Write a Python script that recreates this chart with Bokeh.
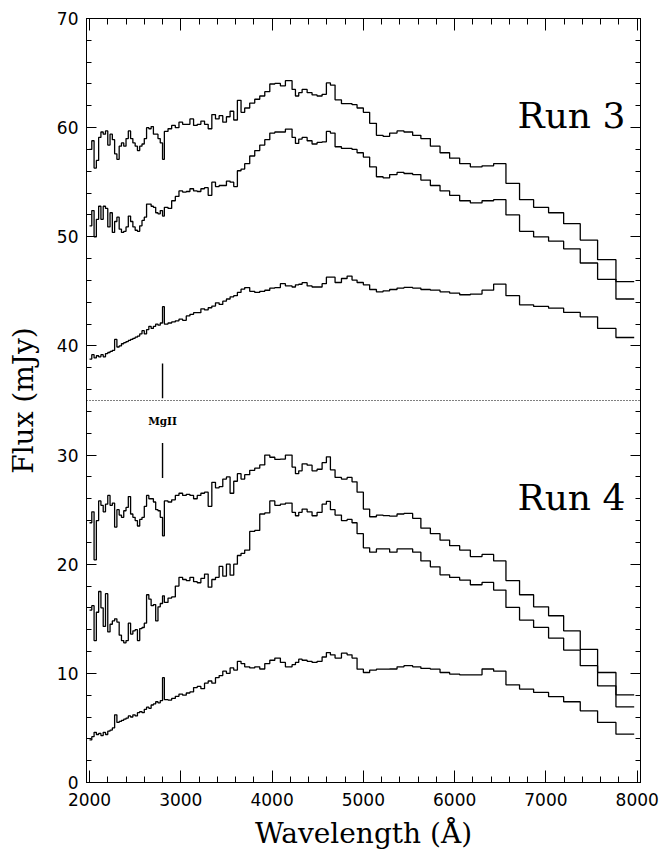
from bokeh.plotting import figure
from bokeh.models import (Range1d, LinearAxis, SingleIntervalTicker, Span, ColumnDataSource,
                          CustomLabelingPolicy)
from bokeh.embed import file_html
from bokeh.resources import INLINE
from bokeh.core.properties import value

# ---------------- data ----------------
wave_edges = [
    2000, 2025, 2050, 2075, 2100, 2125, 2150, 2175, 2200, 2225, 2250, 2275, 2300, 2325, 2350, 2375,
    2400, 2425, 2450, 2475, 2500, 2525, 2550, 2575, 2600, 2625, 2650, 2675, 2700, 2725, 2750, 2775, 2800,
    2820, 2860, 2900, 2940, 2980, 3020, 3060, 3100, 3140, 3180, 3220, 3260, 3300, 3340, 3380, 3420,
    3460, 3500, 3540, 3580, 3620, 3660, 3700,
    3755, 3810, 3865, 3920, 3975, 4030, 4091, 4146, 4219, 4256, 4292, 4329, 4384, 4438, 4493, 4548,
    4595, 4639, 4690,
    4760, 4822, 4876, 4931, 5000, 5069, 5143, 5216, 5288, 5369, 5445, 5540, 5630, 5734, 5840, 5945,
    6055, 6172, 6300, 6427, 6562, 6711, 6865, 7029, 7194, 7376, 7566, 7767, 7967,
]

run3_a = [
    58.0, 58.8, 56.3, 57.0, 59.1, 59.6, 59.4, 59.7, 58.4, 59.4, 58.9, 57.6, 57.1, 58.3, 58.6, 58.3,
    59.0, 59.7, 59.0, 58.6, 58.3, 57.9, 58.3, 58.5, 59.0, 60.0, 59.9, 60.1, 59.4, 59.4, 59.0, 58.6,
    57.1,
    59.65, 59.9, 60.2, 60.0, 60.5, 60.3, 60.3, 60.8, 60.2, 60.3, 60.6, 60.3, 59.9, 61.2, 60.8, 61.1,
    60.5, 61.0, 61.5, 60.7, 62.5, 61.4,
    61.8, 62.25, 62.6, 62.9, 63.3, 64.0, 64.05, 63.83, 64.3, 63.5, 62.9, 63.2, 63.5, 63.2, 63.0, 62.9,
    63.05, 64.1, 63.9,
    62.55, 62.2, 62.2, 62.1, 61.8, 61.4, 60.4, 59.3, 59.2, 59.5, 59.7, 59.6, 59.3, 59.0, 58.3, 57.7,
    57.2, 56.7, 56.4, 56.5, 56.7, 54.9, 53.4, 52.7, 52.2, 51.2, 49.7, 47.9, 45.9,
]

run3_b = [
    51.0, 52.4, 50.0, 51.6, 52.8, 51.6, 52.8, 52.6, 50.9, 52.2, 50.4, 51.4, 51.8, 50.7, 50.4, 50.5,
    50.9, 51.9, 51.4, 50.9, 50.6, 50.5, 51.0, 51.5, 51.8, 53.0, 53.0, 52.8, 52.7, 52.2, 52.1, 52.4,
    51.9,
    52.7, 52.6, 53.3, 53.7, 54.2, 54.1, 54.15, 54.4, 54.2, 54.15, 54.4, 54.5, 53.8, 55.0, 54.6, 54.7,
    54.7, 55.1, 55.0, 54.6, 56.05, 56.2,
    56.7, 57.4, 57.9, 58.4, 58.9, 59.5, 59.6, 59.6, 59.87, 59.1, 58.55, 58.95, 59.1, 58.8, 58.5, 58.65,
    58.7, 59.65, 59.5,
    58.25, 58.1, 58.1, 58.0, 57.7, 57.3, 56.4, 55.5, 55.4, 55.7, 55.9, 55.8, 55.7, 55.2, 54.7, 54.2,
    53.8, 53.3, 53.1, 53.3, 53.4, 52.0, 50.5, 50.0, 49.6, 48.9, 47.6, 46.1, 44.3,
]

run3_c = [
    38.8, 39.2, 38.9, 39.1, 39.0, 39.2, 39.0, 39.3, 39.4, 39.5, 39.6, 40.6, 39.9, 40.0, 40.2, 40.3,
    40.4, 40.5, 40.6, 40.7, 40.8, 40.9, 41.1, 41.4, 41.1, 41.5, 41.8, 41.6, 41.8, 42.0, 41.9, 42.1,
    43.6,
    42.0, 42.1, 42.2, 42.3, 42.45, 42.35, 42.75, 42.9, 43.05, 43.05, 43.4, 43.3, 43.5, 43.65, 43.95, 43.8,
    44.1, 44.3, 44.5, 44.6, 44.9, 45.2,
    45.35, 45.0, 44.9, 45.0, 45.1, 45.3, 45.35, 45.7, 45.5, 45.4, 45.6, 45.65, 45.8, 45.5, 45.4, 45.4,
    45.7, 46.3, 46.3,
    45.81, 46.18, 46.40, 46.03, 45.81, 45.60, 45.17, 44.96, 45.05, 45.17, 45.30, 45.36, 45.30, 45.17,
    45.11, 44.96, 44.84, 44.69, 44.75, 45.11, 45.66, 44.60, 43.77, 43.62, 43.46, 43.07, 42.67, 41.60, 40.77,
]

run4_a = [
    23.8, 24.8, 20.4, 24.0, 25.8, 25.4, 24.8, 25.5, 26.3, 25.4, 25.6, 23.4, 25.0, 24.5, 24.3, 24.9,
    25.2, 26.2, 24.6, 24.3, 24.0, 23.5, 24.1, 24.3, 25.3, 26.3, 26.0, 26.0, 25.7, 25.0, 24.9, 24.3,
    22.6,
    25.8, 25.7, 25.9, 26.3, 26.5, 26.3, 26.4, 26.3, 26.0, 26.3, 26.5, 26.6, 25.3, 27.5, 27.0, 27.1,
    27.8, 28.0, 26.5, 27.6, 28.3, 27.8,
    28.2, 28.6, 28.8, 29.1, 30.0, 29.8, 29.6, 29.63, 30.0, 28.9, 28.3, 28.56, 29.2, 29.07, 28.56, 28.7,
    29.3, 29.84, 28.65,
    27.95, 27.8, 27.95, 27.55, 26.6, 25.05, 24.35, 24.5, 24.45, 24.4, 24.6, 24.65, 24.2, 23.3, 22.8,
    22.2, 21.7, 21.3, 20.7, 20.9, 20.3, 18.5, 17.2, 16.1, 15.28, 13.9, 12.2, 10.08, 8.03,
]

run4_b = [
    15.8, 16.2, 13.0, 15.6, 17.5, 16.0, 14.3, 17.3, 13.8, 14.5, 14.8, 15.0, 14.7, 13.5, 13.0, 12.8,
    13.0, 14.6, 13.6, 13.9, 14.0, 13.0, 14.1, 14.2, 14.6, 17.2, 16.8, 16.2, 16.3, 14.8, 16.1, 16.4,
    17.1,
    16.5, 16.9, 17.0, 18.0, 18.8, 18.6, 18.5, 18.8, 18.4, 18.3, 18.7, 19.1, 17.9, 18.6, 18.8, 19.8,
    18.9, 20.0, 19.0, 20.0, 20.8, 21.0,
    21.3, 23.0, 23.1, 24.6, 24.7, 25.8, 25.4, 25.5, 25.6, 24.75, 24.44, 24.75, 25.05, 24.8, 24.44, 24.75,
    25.5, 25.75, 25.0,
    24.5, 24.0, 24.1, 23.8, 22.8, 21.5, 21.1, 21.4, 21.4, 21.1, 21.4, 21.4, 21.1, 20.3, 19.76,
    19.03, 18.79, 18.55, 18.12, 18.33, 17.63, 16.04, 14.88, 14.21, 13.23, 12.13, 10.7, 8.86, 6.93,
]

run4_c = [
    3.9, 4.2, 4.6, 4.4, 4.5, 4.3, 4.6, 4.4, 4.7, 4.8, 5.0, 6.2, 5.5, 5.6, 5.7, 5.8,
    5.9, 6.1, 6.0, 6.2, 6.1, 6.4, 6.5, 6.4, 6.7, 6.9, 6.8, 7.1, 7.2, 7.4, 7.3, 7.5,
    9.6,
    7.6, 7.55, 7.7, 7.9, 8.1, 8.0, 8.2, 8.3, 8.7, 8.8, 8.6, 9.1, 9.3, 9.1, 9.6, 9.8,
    10.2, 10.0, 10.5, 10.3, 11.1, 10.9,
    10.6, 10.5, 10.6, 10.4, 10.9, 11.2, 11.4, 11.0, 10.6, 10.8, 11.0, 11.3, 11.2, 11.1, 11.0, 11.1,
    11.5, 11.9, 11.7,
    11.4, 11.85, 11.7, 11.4, 10.38, 10.08, 10.3, 10.38, 10.38, 10.4, 10.6, 10.7, 10.6, 10.45, 10.38,
    10.08, 9.93, 9.87, 9.87, 10.4, 10.2, 8.95, 8.56, 8.25, 7.86, 7.4, 6.57, 5.5, 4.43,
]

spectra = [run3_a, run3_b, run3_c, run4_a, run4_b, run4_c]

run_labels = ["Run 3", "Run 4"]
run_label_x = [7870, 7870]
run_label_y = [61.1, 26.1]

divider_level = 35
mgii_wave = [2800, 2800]
mgii_lo = [35.2, 27.9]
mgii_hi = [38.4, 31.1]
mgii_text = ["MgII"]
mgii_text_x = [2800]
mgii_text_y = [33.1]

x_ticks_step = 1000
y_ticks_step = 10

# ---------------- figure ----------------
p = figure(width=661, height=855,
           x_range=Range1d(1967, 8036), y_range=Range1d(0, 70),
           output_backend="svg", toolbar_location=None,
           min_border_left=86, min_border_right=21,
           min_border_top=18, min_border_bottom=73)
p.background_fill_color = "white"
p.border_fill_color = "white"
p.outline_line_color = "black"
p.outline_line_width = 1
p.xgrid.visible = False
p.ygrid.visible = False


def style_axis(ax, ticker, major, minor, labels=True):
    ax.ticker = ticker
    ax.axis_line_color = "black"
    ax.major_tick_line_color = "black"
    ax.minor_tick_line_color = "black"
    ax.major_tick_in = major
    ax.major_tick_out = 0
    ax.minor_tick_in = minor
    ax.minor_tick_out = 0
    if labels:
        ax.major_label_text_font = "DejaVu Sans"
        ax.major_label_text_font_size = "17px"
        ax.major_label_text_color = "black"
        ax.axis_label_text_font = "DejaVu Serif"
        ax.axis_label_text_font_size = "28px"
        ax.axis_label_text_font_style = "normal"
        ax.axis_label_text_color = "black"
    else:
        # tick marks only (box style frame): no label is drawn
        ax.major_label_policy = CustomLabelingPolicy(code="return []")
        ax.major_label_text_font_size = "10px"
        ax.major_label_standoff = 0


p.xaxis.axis_label = "Wavelength (Å)"
p.yaxis.axis_label = "Flux (mJy)"
style_axis(p.xaxis[0], SingleIntervalTicker(interval=x_ticks_step, num_minor_ticks=5), 12, 6)
style_axis(p.yaxis[0], SingleIntervalTicker(interval=y_ticks_step, num_minor_ticks=5), 10, 5)
p.xaxis.major_label_standoff = 10
p.xaxis.axis_label_standoff = 8
p.yaxis.major_label_standoff = 8
p.yaxis.axis_label_standoff = 14

top = LinearAxis()
style_axis(top, SingleIntervalTicker(interval=x_ticks_step, num_minor_ticks=5), 12, 6, labels=False)
p.add_layout(top, "above")
right = LinearAxis()
style_axis(right, SingleIntervalTicker(interval=y_ticks_step, num_minor_ticks=5), 10, 5, labels=False)
p.add_layout(right, "right")

for spec in spectra:
    xs = list(wave_edges)
    ys = list(spec) + [spec[-1]]
    p.step(xs, ys, mode="after", line_color="black", line_width=1.3)

p.add_layout(Span(location=divider_level, dimension="width", line_color="black",
                  line_width=1, line_dash="1 2"))

p.segment(x0=mgii_wave, y0=mgii_lo, x1=mgii_wave, y1=mgii_hi,
          line_color="black", line_width=1.4)
p.text(x=mgii_text_x, y=mgii_text_y, text=mgii_text, text_font=value("DejaVu Serif"),
       text_font_size="10.5px", text_font_style="bold", text_align="center",
       text_baseline="middle", text_color="black")

src = ColumnDataSource(dict(x=run_label_x, y=run_label_y, t=run_labels))
p.text(x="x", y="y", text="t", source=src, text_font=value("DejaVu Serif"),
       text_font_size="36px", text_align="right", text_baseline="middle",
       text_color="black")

open("out.html", "w").write(file_html(p, INLINE))
